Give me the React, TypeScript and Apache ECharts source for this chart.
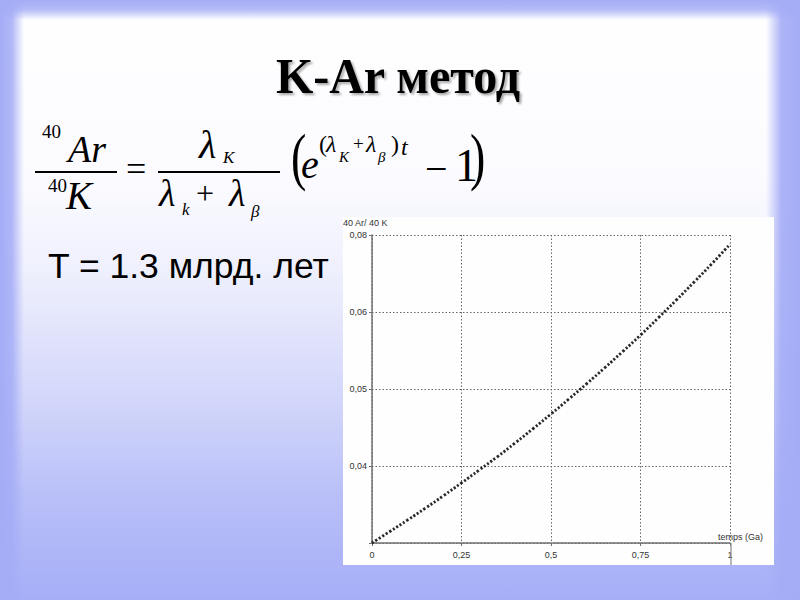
import React, { useEffect, useRef } from "react";
import * as echarts from "echarts";

// Data
const timeGa = [0, 0.05, 0.1, 0.15, 0.2, 0.25, 0.3, 0.35, 0.4, 0.45, 0.5, 0.55, 0.6, 0.65, 0.7, 0.75, 0.8, 0.85, 0.9, 0.95, 1];
const ratioValues = [0, 0.003, 0.006, 0.0091, 0.0123, 0.0156, 0.019, 0.0224, 0.026, 0.0297, 0.0335, 0.0374, 0.0414, 0.0455, 0.0497, 0.054, 0.0585, 0.0631, 0.0678, 0.0726, 0.0776];
const xTickLabels = ["0", "0,25", "0,5", "0,75", "1"];
const yTickLabels = ["", "0,04", "0,05", "0,06", "0,08"];
const yAxisName = "40 Ar/ 40 K";
const xAxisName = "temps (Ga)";
const titleText = "K-Ar метод";
const noteText = "T = 1.3 млрд. лет";

const SERIF = '"Liberation Serif", "Times New Roman", serif';
const SANS = '"Liberation Sans", Arial, sans-serif';

function txt(x: number, y: number, text: string, size: number, opts: any = {}) {
  return {
    type: "text",
    x,
    y,
    scaleX: opts.scaleX ?? 1,
    scaleY: opts.scaleY ?? 1,
    z: 10,
    style: {
      text,
      fontSize: size,
      fontFamily: opts.family ?? SERIF,
      fontStyle: opts.italic ? "italic" : "normal",
      fontWeight: opts.bold ? "bold" : "normal",
      fill: opts.color ?? "#000",
      align: opts.align ?? "left",
      verticalAlign: "middle",
      ...(opts.extra ?? {}),
    },
  };
}

export default function App() {
  const ref = useRef<HTMLDivElement>(null);
  useEffect(() => {
    const chart = echarts.init(ref.current!, null, { renderer: "svg" });
    const blue = "#a4acf6";
    const graphic: any[] = [
      // frame bands
      {
        type: "rect", z: -20, shape: { x: 0, y: 0, width: 24, height: 600 },
        style: { fill: { type: "linear", x: 0, y: 0, x2: 1, y2: 0, colorStops: [{ offset: 0, color: blue }, { offset: 0.5, color: "rgba(164,172,246,0.85)" }, { offset: 1, color: "rgba(164,172,246,0)" }] } },
      },
      {
        type: "rect", z: -20, shape: { x: 766, y: 0, width: 34, height: 600 },
        style: { fill: { type: "linear", x: 0, y: 0, x2: 1, y2: 0, colorStops: [{ offset: 0, color: "rgba(164,172,246,0)" }, { offset: 0.45, color: "rgba(164,172,246,0.9)" }, { offset: 1, color: blue }] } },
      },
      {
        type: "rect", z: -20, shape: { x: 0, y: 0, width: 800, height: 20 },
        style: { fill: { type: "linear", x: 0, y: 0, x2: 0, y2: 1, colorStops: [{ offset: 0, color: blue }, { offset: 0.5, color: "rgba(164,172,246,0.8)" }, { offset: 1, color: "rgba(164,172,246,0)" }] } },
      },
      // chart panel
      { type: "rect", z: -10, shape: { x: 343, y: 217, width: 431, height: 348 }, style: { fill: "#fefeff" } },
      // tick extension at x=1
      { type: "line", z: 5, shape: { x1: 731, y1: 543, x2: 731, y2: 565 }, style: { stroke: "#888", lineWidth: 1.2 } },
      // title
      txt(398, 76, titleText, 48, { bold: true, align: "center", scaleY: 1.07, extra: { textShadowColor: "rgba(0,0,0,0.35)", textShadowOffsetX: 2, textShadowOffsetY: 2, textShadowBlur: 2 } }),
      // formula left fraction
      txt(42, 131, "40", 19),
      txt(68, 149, "Ar", 38, { italic: true }),
      { type: "line", z: 10, shape: { x1: 35, y1: 172, x2: 117, y2: 172 }, style: { stroke: "#000", lineWidth: 2 } },
      txt(48, 185, "40", 19),
      txt(66, 195, "K", 39, { italic: true }),
      txt(126, 169, "=", 36),
      // right fraction
      txt(199, 144, "λ", 40, { italic: true }),
      txt(223, 157, "K", 17, { italic: true }),
      { type: "line", z: 10, shape: { x1: 158, y1: 172, x2: 280, y2: 172 }, style: { stroke: "#000", lineWidth: 2 } },
      txt(159, 193, "λ", 38, { italic: true }),
      txt(182, 209, "k", 17, { italic: true }),
      txt(196, 193, "+", 32),
      txt(229, 193, "λ", 38, { italic: true }),
      txt(251, 211, "β", 17, { italic: true }),
      // bracket
      txt(291, 156, "(", 46, { scaleY: 1.4 }),
      txt(301, 164, "e", 40, { italic: true }),
      txt(319, 144, "(", 24),
      txt(326, 144, "λ", 24, { italic: true }),
      txt(339, 157, "K", 15, { italic: true }),
      txt(353, 143, "+", 19),
      txt(366, 144, "λ", 24, { italic: true }),
      txt(378, 157, "β", 15, { italic: true }),
      txt(391, 144, ")", 24),
      txt(401, 147, "t", 24, { italic: true }),
      txt(425, 168, "−", 40),
      txt(455, 165, "1", 46),
      txt(470, 156, ")", 46, { scaleY: 1.4 }),
      // note
      txt(48, 266, noteText, 35.5, { family: SANS }),
      // axis names
      txt(343, 223, yAxisName, 9, { family: SANS, color: "#333" }),
      txt(718, 537, xAxisName, 9, { family: SANS, color: "#333" }),
    ];

    const option: any = {
      animation: false,
      backgroundColor: {
        type: "linear", x: 0, y: 0, x2: 0, y2: 1,
        colorStops: [
          { offset: 0, color: "#ffffff" },
          { offset: 0.3, color: "#fbfbff" },
          { offset: 0.45, color: "#eff0fd" },
          { offset: 0.67, color: "#d2d6fa" },
          { offset: 0.83, color: "#b8bff8" },
          { offset: 1, color: "#a6aef7" },
        ],
      },
      graphic,
      grid: { left: 372, top: 235, width: 358, height: 308, containLabel: false },
      xAxis: {
        type: "value",
        min: 0,
        max: 1,
        interval: 0.25,
        axisLine: { show: true, lineStyle: { color: "#707070", width: 1.5 } },
        axisTick: { show: true, length: 3, lineStyle: { color: "#707070" } },
        axisLabel: {
          color: "#333", fontSize: 9, fontFamily: SANS, margin: 7,
          formatter: (v: number) => xTickLabels[Math.round(v / 0.25)] ?? "",
        },
        splitLine: { show: true, lineStyle: { color: "#666", width: 1, type: [1.5, 2] } },
      },
      yAxis: {
        type: "value",
        min: 0,
        max: 0.08,
        interval: 0.02,
        axisLine: { show: true, lineStyle: { color: "#707070", width: 1.5 } },
        axisTick: { show: true, length: 3, lineStyle: { color: "#707070" } },
        axisLabel: {
          color: "#333", fontSize: 9, fontFamily: SANS, margin: 5,
          formatter: (v: number) => yTickLabels[Math.round(v / 0.02)] ?? "",
        },
        splitLine: { show: true, lineStyle: { color: "#666", width: 1, type: [1.5, 2] } },
      },
      series: [
        {
          type: "line",
          data: timeGa.map((t, i) => [t, ratioValues[i]]),
          smooth: true,
          showSymbol: false,
          lineStyle: { color: "#2a2a2a", width: 2.8, type: [2.2, 1.9], cap: "butt" },
          z: 3,
        },
      ],
    };
    chart.setOption(option);
    return () => chart.dispose();
  }, []);
  return <div ref={ref} style={{ position: "fixed", left: 0, top: 0, width: 800, height: 600 }} />;
}
